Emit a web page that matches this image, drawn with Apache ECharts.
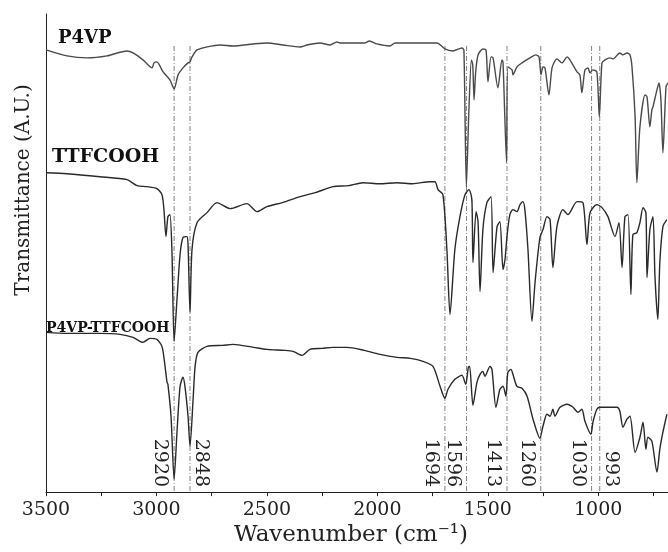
<!DOCTYPE html>
<html>
<head>
<meta charset="utf-8">
<script src="https://cdn.jsdelivr.net/npm/echarts@6/dist/echarts.min.js"></script>
<style>
  html, body { margin: 0; padding: 0; background: #fff; }
  #chart { width: 668px; height: 552px; }
</style>
</head>
<body>
<div id="chart"></div>
<script>
// FTIR spectra: [wavenumber (cm-1), transmittance (arbitrary units, traces stacked)]
const p4vp = [
  [3500,443],[3405,437],[3314,435],[3224,437],[3133,442],[3106,440],[3061,433],[3020,425],
  [3011,430],[2998,431],[2970,421],[2939,413],[2920,404],[2902,418],[2880,425],[2857,430],
  [2848,431],[2839,436],[2816,443],[2771,446],[2712,448],[2653,447],[2563,449],[2500,450],
  [2427,448],[2350,446],[2318,448],[2260,450],[2214,448],[2183,451],[2169,450],[2124,450],
  [2056,450],[2036,452],[2002,449],[1943,447],[1920,450],[1839,450],[1730,450],[1694,444],
  [1658,442],[1617,445],[1608,443],[1597,306],[1585,385],[1574,433],[1568,428],[1562,393],
  [1555,420],[1544,438],[1522,444],[1508,443],[1499,411],[1485,436],[1476,435],[1454,405],
  [1436,433],[1431,431],[1415,330],[1409,426],[1390,423],[1386,418],[1368,426],[1345,430],
  [1309,435],[1282,438],[1268,436],[1259,418],[1250,426],[1241,425],[1223,398],[1209,425],
  [1187,434],[1164,430],[1141,436],[1128,433],[1096,421],[1083,418],[1074,400],[1060,423],
  [1046,425],[1037,420],[1024,423],[1006,421],[995,376],[983,430],[969,433],[947,435],
  [933,434],[902,440],[888,438],[870,440],[856,438],[847,426],[833,376],[825,310],
  [811,366],[788,398],[779,396],[766,366],[757,383],[752,386],[734,403],[725,410],
  [716,393],[707,340],[693,406],[684,410]
];

const ttfcooh = [
  [3500,320],[3405,319],[3256,316],[3133,313],[3088,307],[3043,306],[2998,304],[2975,298],
  [2966,283],[2957,256],[2948,276],[2939,278],[2930,243],[2920,151],[2907,193],[2893,238],
  [2880,255],[2862,256],[2857,248],[2848,180],[2839,243],[2816,270],[2771,280],[2726,290],
  [2667,284],[2590,289],[2545,281],[2500,286],[2430,290],[2350,296],[2280,300],[2201,306],
  [2130,307],[2065,310],[1990,309],[1911,310],[1840,309],[1762,311],[1739,311],[1725,303],
  [1703,298],[1685,243],[1671,178],[1649,243],[1626,276],[1603,298],[1585,303],[1572,293],
  [1567,230],[1553,281],[1544,271],[1535,201],[1522,263],[1504,290],[1485,296],[1476,220],
  [1458,266],[1445,271],[1431,223],[1422,233],[1413,256],[1400,278],[1386,283],[1368,281],
  [1354,288],[1341,291],[1332,283],[1318,243],[1300,171],[1286,210],[1264,255],[1250,263],
  [1232,276],[1218,273],[1205,225],[1187,266],[1160,283],[1137,278],[1096,291],[1069,290],
  [1051,248],[1037,280],[1006,288],[983,285],[956,276],[924,256],[906,270],[892,225],
  [879,276],[865,278],[852,198],[843,258],[825,260],[811,270],[797,285],[784,280],
  [779,215],[766,263],[752,276],[743,216],[730,173],[721,230],[707,266],[689,273]
];

const p4vpTtfcooh = [
  [3500,160],[3405,159],[3256,159],[3165,158],[3106,155],[3061,150],[3029,154],[2998,153],
  [2975,146],[2961,126],[2952,110],[2948,108],[2934,76],[2920,13],[2907,60],[2893,106],
  [2880,115],[2871,106],[2857,76],[2848,46],[2834,93],[2825,126],[2812,140],[2771,146],
  [2700,147],[2653,148],[2560,145],[2500,143],[2420,142],[2382,141],[2341,137],[2305,143],
  [2250,144],[2201,145],[2137,145],[2060,142],[1988,138],[1911,135],[1850,134],[1793,131],
  [1748,126],[1716,106],[1694,94],[1680,103],[1649,113],[1617,117],[1600,108],[1588,125],
  [1582,126],[1567,87],[1549,110],[1535,118],[1522,121],[1513,116],[1490,126],[1481,123],
  [1463,85],[1445,103],[1431,106],[1418,96],[1409,120],[1395,123],[1386,118],[1368,106],
  [1345,104],[1322,96],[1295,73],[1264,54],[1250,66],[1232,78],[1218,76],[1205,83],
  [1196,76],[1173,85],[1141,88],[1114,85],[1092,80],[1074,83],[1060,71],[1033,58],
  [1024,70],[1006,83],[992,85],[915,85],[902,81],[888,65],[870,73],[856,76],
  [833,40],[811,55],[797,70],[784,43],[775,55],[757,51],[734,20],[721,43],
  [707,60],[689,78]
];

// Assigned band positions marked with guide lines
const peaks = [2920, 2848, 1694, 1596, 1413, 1260, 1030, 993];

// Axis ticks
const majorTicks = [3500, 3000, 2500, 2000, 1500, 1000];
const minorTicks = [3500, 3250, 3000, 2750, 2500, 2250, 2000, 1750, 1500, 1250, 1000, 750];

const SERIF = '"DejaVu Serif", "Liberation Serif", serif';
const GUIDE_TOP = 447;

// label goes to the right of the line when the neighbouring band on the left is close
const peakData = peaks.map((wn, i) => [wn, 0, (i > 0 && peaks[i - 1] - wn < 80) ? 1 : 0]);

function renderPeak(params, api) {
  const wn = api.value(0);
  const onRight = api.value(2) === 1;
  const top = api.coord([wn, GUIDE_TOP]);
  const base = api.coord([wn, 0]);
  return {
    type: 'group',
    children: [
      {
        type: 'line',
        shape: { x1: top[0], y1: top[1], x2: base[0], y2: base[1] },
        style: { stroke: '#808080', lineWidth: 1, lineDash: [5, 2, 1, 2] }
      },
      {
        type: 'text',
        x: base[0] + (onRight ? 11 : -14),
        y: base[1] - 5,
        rotation: -Math.PI / 2,
        style: {
          text: String(wn),
          font: '19px ' + SERIF,
          fill: '#222',
          align: 'right',
          verticalAlign: 'middle'
        }
      }
    ]
  };
}

const chart = echarts.init(document.getElementById('chart'), null, { renderer: 'canvas' });

const traceStyle = (color) => ({ color: color, width: 1.4 });

chart.setOption({
  animation: false,
  backgroundColor: '#fff',
  grid: { left: 46, right: 0, top: 14, bottom: 59 },
  xAxis: {
    type: 'value',
    inverse: true,
    min: 684,
    max: 3500,
    name: 'Wavenumber (cm\u207B\u00B9)',
    nameLocation: 'middle',
    nameGap: 31,
    nameTextStyle: { fontFamily: SERIF, fontSize: 23, color: '#222', padding: [0, 12, 0, 0] },
    axisLine: { onZero: false, lineStyle: { color: '#222', width: 1 } },
    axisTick: { show: true, inside: false, length: 4, customValues: minorTicks, lineStyle: { color: '#222' } },
    axisLabel: {
      customValues: majorTicks, margin: 8, fontFamily: SERIF, fontSize: 19, color: '#222',
      formatter: (v) => String(v)
    },
    splitLine: { show: false }
  },
  yAxis: {
    type: 'value',
    min: 0,
    max: 479,
    axisLine: { show: true, onZero: false, lineStyle: { color: '#222', width: 1 } },
    axisTick: { show: false },
    axisLabel: { show: false },
    splitLine: { show: false }
  },
  graphic: [
    {
      type: 'text', x: 24, y: 190, rotation: Math.PI / 2,
      style: { text: 'Transmittance (A.U.)', font: '20px ' + SERIF, fill: '#222', align: 'center', verticalAlign: 'middle' }
    },
    {
      type: 'text', x: 58, y: 38,
      style: { text: 'P4VP', font: 'bold 18px ' + SERIF, fill: '#111', align: 'left', verticalAlign: 'middle' }
    },
    {
      type: 'text', x: 52, y: 157,
      style: { text: 'TTFCOOH', font: 'bold 19px ' + SERIF, fill: '#111', align: 'left', verticalAlign: 'middle' }
    },
    {
      type: 'text', x: 46, y: 328,
      style: { text: 'P4VP-TTFCOOH', font: 'bold 14px ' + SERIF, fill: '#111', align: 'left', verticalAlign: 'middle' }
    }
  ],
  series: [
    {
      name: 'peaks',
      type: 'custom',
      renderItem: renderPeak,
      encode: { x: 0, y: 1 },
      data: peakData,
      z: 1,
      silent: true
    },
    {
      name: 'P4VP', type: 'line', data: p4vp, showSymbol: false, smooth: 0.25,
      lineStyle: traceStyle('#4a4a4a'), z: 3
    },
    {
      name: 'TTFCOOH', type: 'line', data: ttfcooh, showSymbol: false, smooth: 0.25,
      lineStyle: traceStyle('#2a2a2a'), z: 3
    },
    {
      name: 'P4VP-TTFCOOH', type: 'line', data: p4vpTtfcooh, showSymbol: false, smooth: 0.25,
      lineStyle: traceStyle('#2a2a2a'), z: 3
    }
  ]
});
</script>
</body>
</html>
